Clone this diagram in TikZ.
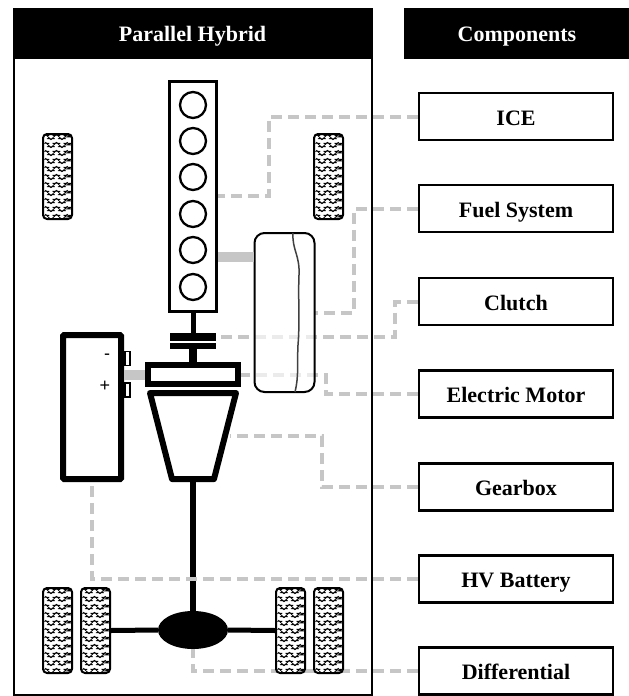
\documentclass[tikz,border=0pt]{standalone}
\usepackage{fontspec}
\setmainfont{Liberation Serif}
\setsansfont{Liberation Sans}
\usetikzlibrary{arrows.meta, positioning, calc, decorations.pathmorphing, shapes.geometric}
\definecolor{linkgray}{HTML}{C6C6C6}

\begin{document}
\begin{tikzpicture}[
  x=1pt, y=-1pt,
  header/.style={draw=black, fill=black, text=white, inner sep=0pt, minimum height=50,
    text height=17pt, text depth=0pt, font=\fontsize{22}{24}\selectfont\bfseries},
  partbox/.style={draw, line width=2.5pt, inner sep=0pt, minimum width=194, minimum height=47,
    text height=17pt, text depth=0pt, font=\fontsize{22}{24}\selectfont\bfseries},
  cyl/.style={circle, draw, line width=2.3pt, inner sep=0pt, minimum size=26},
  plate/.style={fill=black, inner sep=0pt, minimum width=46},
  heavy/.style={draw, line width=6pt, inner sep=0pt, fill=white},
  terminal/.style={draw, line width=1.5pt, inner sep=0pt, minimum width=5, minimum height=14, anchor=west},
  sign/.style={inner sep=0pt, font=\sffamily\fontsize{18}{18}\selectfont},
  link/.style={draw=linkgray, line width=4pt, dash pattern=on 11pt off 6pt},
  bar/.style={draw=linkgray, line width=10pt},
  tire/.style={draw, line width=2pt, rounded corners=4pt, fill=white, inner sep=0pt,
    minimum width=29, minimum height=85,
    path picture={
      \foreach \r in {3,11,...,83} {
        \draw[line width=0.8pt, decorate, decoration={snake, amplitude=1.7pt, segment length=11pt}]
          ([xshift=-1pt, yshift=-\r pt]path picture bounding box.north west) --
          ([xshift=1pt, yshift=-\r pt]path picture bounding box.north east);
      }
    }}
]
  \useasboundingbox (0,0) rectangle (629,696);

  % Panels
  \node[draw, line width=2pt, inner sep=0pt, minimum width=358, minimum height=686] (panel) at (192.5,351.5) {};
  \node[header, minimum width=359] (title) at (192.5,33) {Parallel Hybrid};
  \node[header, minimum width=226] (comptitle) at (517,33) {Components};

  % Components
  \foreach \n/\t/\y in {ice/ICE/116.5, fuel/Fuel System/208.5, clutch/Clutch/301.5,
      motor/Electric Motor/394, gearbox/Gearbox/487, hvbat/HV Battery/579, diff/Differential/671} {
    \node[partbox] (\n) at (516,\y) {\t};
  }

  % Engine
  \node[draw, line width=2.2pt, inner sep=0pt, minimum width=47, minimum height=230] (engine) at (193,196.5) {};
  \foreach \i/\y in {1/105, 2/141, 3/177, 4/214, 5/250, 6/287} {
    \node[cyl] (cyl\i) at (193,\y) {};
  }
  \coordinate (enginetap) at (218,196);

  % Drive train
  \node[plate, minimum height=8] (plateA) at (193,337) {};
  \node[plate, minimum height=6] (plateB) at (193,346) {};
  \node[heavy, minimum width=90, minimum height=19] (emotor) at (193,374.5) {};
  \node[ellipse, fill=black, inner sep=0pt, minimum width=70, minimum height=38] (diffcase) at (193,630) {};
  \coordinate (gearin) at (193,390);
  \coordinate (gearout) at (193,482);
  \coordinate (geartap) at (230,436);
  \draw[line width=5pt] (engine.south) -- (plateA.north);
  \draw[line width=8pt] (plateB.south) -- (emotor.north);
  \draw[line width=6pt] (gearout) -- (diffcase.north);
  \draw[heavy, line join=round] (150,393) -- (236,393) -- (214,479) -- (172,479) -- cycle;

  % Battery
  \node[heavy, rounded corners=1pt, minimum width=58, minimum height=144] (battery) at (92,407) {};
  \node[terminal] (termA) at (124,358.5) {};
  \node[terminal] (termB) at (124,390) {};
  \node[sign] (minus) at (107,357) {-};
  \node[sign] (plus) at (105,386) {+};
  \draw[bar] (emotor.west) -- (emotor.west -| battery.east);

  % Connections
  \draw[link] (ice.west) -- ++(-149,0) |- (enginetap);
  \draw[link] (fuel.west) -- ++(-64,0) |- (315,312.5);
  \draw[link] (clutch.west) -- ++(-23,0) |- (plateA.east);
  \draw[link] (motor.west) -- ++(-92,0) |- (emotor.east);
  \draw[link] (gearbox.west) -- ++(-96,0) |- (geartap);
  \draw[link] (hvbat.west) -| (battery.south);
  \draw[link] (diff.west) -| (diffcase.south);

  % Fuel tank
  \node[draw, line width=2pt, rounded corners=10pt, fill=white, fill opacity=0.65, draw opacity=1,
    inner sep=0pt, minimum width=60, minimum height=159] (tank) at (284.5,312.5) {};
  \draw[line width=1.5pt, black!75] (293,233) .. controls (292,250) and (300,255) .. (299,275)
    .. controls (298,300) and (300,320) .. (298,345) .. controls (297,365) and (299,375) .. (295,392);
  \draw[bar] ([yshift=55.5pt]tank.west) -- ([yshift=55.5pt]tank.west -| engine.east);

  % Wheels
  \foreach \n/\x/\y in {wheelA/57.5/176.5, wheelB/328.5/176.5, wheelC/57.5/630.5,
      wheelD/95.5/630.5, wheelE/290.5/630.5, wheelF/328.5/630.5} {
    \node[tire] (\n) at (\x,\y) {};
  }
  \draw[line width=5pt] (wheelD.east) -- (diffcase.west);
  \draw[line width=5pt] (diffcase.east) -- (wheelE.west);
\end{tikzpicture}
\end{document}
